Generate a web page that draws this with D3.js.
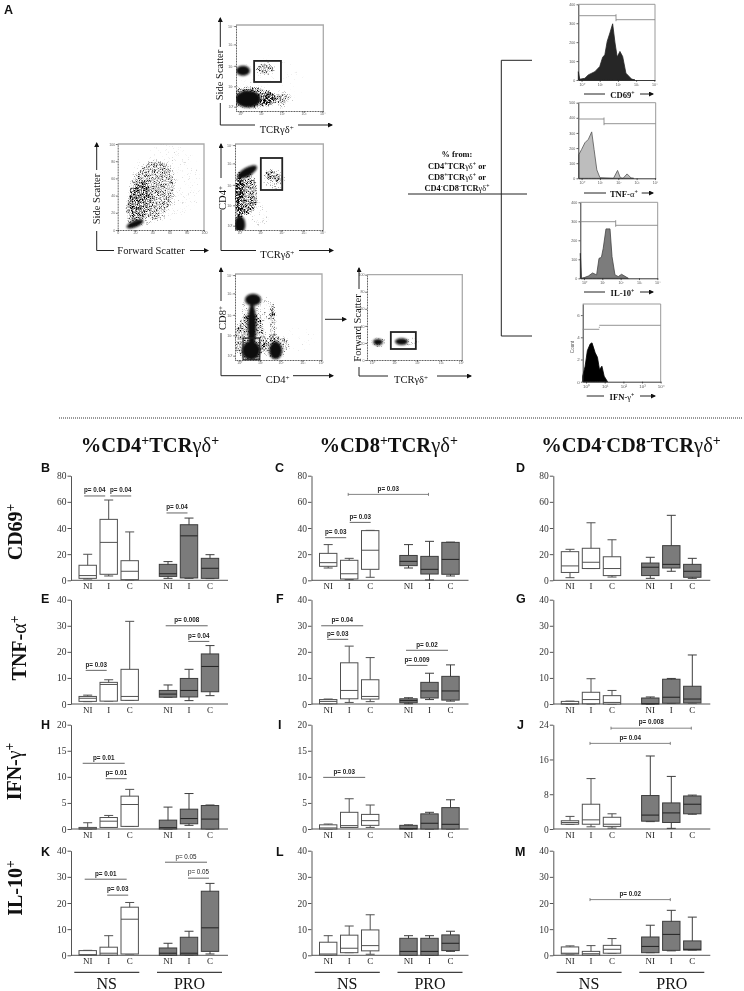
<!DOCTYPE html>
<html>
<head>
<meta charset="utf-8">
<script src="https://cdnjs.cloudflare.com/ajax/libs/d3/7.8.5/d3.min.js"></script>
<style>
html,body{margin:0;padding:0;background:#fff}
svg{display:block;filter:blur(0.42px)}
</style>
</head>
<body>
<svg id="fig" width="744" height="991" viewBox="0 0 744 991"></svg>
<script>
// ---------- box plot data: [min, q1, median, q3, max] for NS NI,I,C then PRO NI,I,C ----------
const categories = ["NI","I","C"];
const groups = ["NS","PRO"];
const panelB = [[1,1.5,3.6,11.5,19.9],[3.3,4.6,29,46.6,61.4],[0.3,0.5,6.9,15,37],[1.5,3,5,12.2,14.3],[1.5,1.8,34,42.5,47.6],[1.3,1.5,9.2,16.8,19.6]];
const panelC = [[9.4,10.7,13.5,20.6,27.3],[0.5,1,5,15.3,16.8],[2.3,8.4,23,38,38.2],[9.4,11.2,14.5,19,27.3],[0.3,4.8,8.4,18.3,29.8],[3.3,4.6,16,29,29.2]];
const panelD = [[2,6,11,21.9,23.7],[9,9,13.8,24.5,44],[2.5,3.6,9,18,31],[1.5,3.6,10,13.2,17.6],[6.9,9.4,12.2,26.5,49.7],[1.5,2.3,6.9,12.2,16.8]];
const panelE = [[0.9,1,2.2,2.9,3.4],[1.1,1.1,7.5,8.3,9.3],[1.4,1.4,2.9,13.3,31.7],[2.6,2.6,3.8,5.2,7.3],[1.3,2.7,5.2,9.8,13.3],[3.2,4.7,14.4,19.2,22.4]];
const panelF = [[0.1,0.1,1,1.7,1.9],[0.6,2,5.2,15.8,22.2],[0.9,1.9,2.9,9.3,17.8],[0.1,0.5,1.3,2,2.4],[1.7,2.3,5,8.3,11.8],[1.1,1.5,5,10.6,15]];
const panelG = [[0,0,0.1,1,1.1],[0,0.1,1.7,4.5,9.7],[0,0,0.6,3.2,5.2],[0,0,0.1,2.3,2.7],[0.3,0.3,2.6,9.5,9.8],[0.4,0.4,1.9,6.8,18.8]];
const panelH = [[0,0,0.05,0.3,1.2],[0.3,0.3,1.5,2.2,2.6],[0.5,0.5,4.7,6.3,7.6],[0,0,0.25,1.7,4.2],[0.7,1,2,3.8,6.8],[0,0,1.9,4.5,4.6]];
const panelI = [[0,0,0.2,0.8,0.95],[0.3,0.3,0.65,3.2,5.8],[0.3,0.7,1.6,2.8,4.6],[0,0,0.05,0.7,0.8],[0,0,1.1,2.9,3.2],[0,0,0.9,4.1,5.6]];
const panelJ = [[1.05,1.1,1.5,1.9,2.9],[0.5,1.1,2.1,5.7,11.6],[0.2,0.6,1.1,2.7,3.5],[1.7,1.8,3.2,7.7,16.8],[0.15,1.5,3.7,6,12.1],[3.4,3.5,5.7,7.6,7.8]];
const panelK = [[0,0,0.25,1.8,1.9],[0.1,0.1,0.8,3.1,7.5],[0.5,0.5,13.8,18.4,20.2],[0,0,0.8,2.8,4.6],[0.1,0.1,0.8,6.9,9.2],[0.5,1.5,10.5,24.5,27.5]];
const panelL = [[0,0.1,0.5,5,7.5],[1,1,2.7,7.7,11.2],[0.4,1.7,3.7,9.7,15.5],[0,0,1.5,6.5,7.5],[0,0,1.5,6.5,7.5],[1.5,1.8,4.6,7.8,9.2]];
const panelM = [[0.5,0.5,0.8,3.2,3.6],[0.1,0.1,0.6,1.5,3.7],[0.8,0.8,2.3,3.8,6.4],[1,1,3.4,7,11.5],[1.7,1.9,8,13,17.2],[2,2,2.3,5.5,14.6]];

// ---------- tick labels ----------
const ticks80 = [0,20,40,60,80];
const ticks40 = [0,10,20,30,40];
const ticks20 = [0,5,10,15,20];
const ticks24 = [0,8,16,24];

// ---------- significance bars: label, from group/category, to group/category, level on the y scale ----------
const pB = [["p= 0.04",0,0,0,1,64.5],["p= 0.04",0,1,0,2,64.5],["p= 0.04",1,0,1,1,51.5]];
const pC = [["p= 0.03",0,1,1,1,65.7],["p= 0.03",0,1,0,2,44.3],["p= 0.03",0,0,0,1,32.6]];
const pE = [["p= 0.03",0,0,0,1,12.9],["p= 0.008",1,0,1,2,30],["p= 0.04",1,1,1,2,24]];
const pF = [["p= 0.04",0,0,0,2,30],["p= 0.03",0,0,0,1,24.8],["p= 0.02",1,0,1,2,20.6],["p= 0.009",1,0,1,1,14.8]];
const pH = [["p= 0.01",0,0,0,2,12.6],["p= 0.01",0,1,0,2,9.65]];
const pI = [["p= 0.03",0,0,0,2,9.9]];
const pJ = [["p= 0.008",0,2,1,2,23.2],["p= 0.04",0,1,1,1,19.7]];
const pK = [["p= 0.01",0,0,0,2,29.1],["p= 0.03",0,1,0,2,23],["p= 0.05",1,0,1,2,35.6],["p= 0.05",1,1,1,2,29.5]];
const pM = [["p= 0.02",0,1,1,1,21.3]];

// ---------- histogram data: [log10 intensity, count] ----------
const histCD69 = [[-0.18,44],[-0.1,4],[0.18,9],[0.37,27],[0.73,44],[1,71],[1.16,120],[1.28,133],[1.41,204],[1.56,249],[1.71,297],[1.84,196],[1.96,121],[2.11,151],[2.26,124],[2.44,36],[2.75,5],[2.94,0]];
const histTNF = [[-0.15,157],[0,191],[0.18,235],[0.37,258],[0.55,307],[0.68,191],[0.83,56],[1,4],[1.74,0],[1.96,52],[2.11,4],[2.26,0],[2.48,29],[2.7,2],[2.84,0]];
const histIL10 = [[-0.2,132],[-0.13,0],[0.05,5],[0.24,12],[0.47,28],[0.69,18],[0.82,105],[0.95,110],[1.05,158],[1.2,260],[1.42,260],[1.53,114],[1.69,18],[1.87,9],[2.05,21],[2.42,0]];
const histIFN = [[-0.18,0.5],[-0.05,1.4],[0.07,2.8],[0.22,3.4],[0.32,3.5],[0.49,2.6],[0.61,2.2],[0.72,1.1],[0.85,1.4],[0.97,0.5],[1.15,0]];

// ---------- cytometry density regions: [x, y, radius x, radius y, tilt, density] ----------
const cloudsSscTcr = [[0.32,1.87,0.32,0.23,0,1],[1.33,1.95,0.42,0.26,0,0.52],[0.55,0.56,0.58,0.4,0,1],[1.47,0.57,0.35,0.28,0,0.68],[2.1,0.55,0.4,0.32,0,0.42],[1.6,1.3,1.7,1.4,0,0.3],[0.6,0.6,1.2,0.5,0,0.62]];
const cloudsSscFsc = [[200,70,105,38,-22,1],[230,290,130,280,16,0.54],[380,420,260,400,20,0.42],[560,560,440,470,0,0.33]];
const cloudsCd4Tcr = [[0.55,2.7,0.5,0.2,-30,1],[0.2,1.45,0.2,1.3,0,0.9],[0.22,0.25,0.25,0.4,0,1],[0.5,1.75,0.55,1.05,0,0.66],[1.6,2.55,0.22,0.22,0,0.52],[2,2.4,0.22,0.22,0,0.5],[1.75,2.35,0.55,0.6,0,0.42],[1.05,0.7,0.6,0.7,0,0.36]];
const cloudsCd8Cd4 = [[0.83,2.8,0.37,0.28,0,1],[0.78,1.6,0.2,1,0,1],[0.74,0.45,0.42,0.45,0,1],[1.87,0.45,0.3,0.42,0,1],[1.75,1.6,0.2,1,0,0.55],[1.05,2.4,0.85,0.7,0,0.42],[0.7,1,0.75,1.2,0,0.62],[3,1,0.8,0.7,0,0.31],[1.85,0.6,0.6,0.6,0,0.55]];
const cloudsFscTcr = [[0.46,210,0.2,36,0,1],[1.45,216,0.27,40,0,1],[0.46,210,0.38,75,0,0.5],[1.8,216,0.5,70,0,0.42]];

// ---------- text ----------
const columnTitles = ["%CD4^+TCRγδ^+","%CD8^+TCRγδ^+","%CD4^-CD8^-TCRγδ^+"];
const rowTitles = ["CD69^+","TNF-α^+","IFN-γ^+","IL-10^+"];
const gateNote = ["% from:","CD4^+TCRγδ^+ or","CD8^+TCRγδ^+ or","CD4^-CD8^-TCRγδ^+"];
const decadeLabels = ["10⁰","10¹","10²","10³","10⁴"];

// ---------- layout (pixels) ----------
const colX = [71,311.5,553.3];
const rowY = [[475.7,580.3],[599.7,704],[724.7,829],[850.7,955.3]];
const axisLen = 157;
const panels = [
 {id:"B",col:0,row:0,vals:panelB,ymax:80,ticks:ticks80,p:pB,shift:[-3.5,1.5,-1.5]},
 {id:"C",col:1,row:0,vals:panelC,ymax:80,ticks:ticks80,p:pC,shift:[-1,0.5,-3],caps:[0]},
 {id:"D",col:2,row:0,vals:panelD,ymax:80,ticks:ticks80,p:[],shift:[]},
 {id:"E",col:0,row:1,vals:panelE,ymax:40,ticks:ticks40,p:pE,shift:[-2,-2.3,-0.7]},
 {id:"F",col:1,row:1,vals:panelF,ymax:40,ticks:ticks40,p:pF,shift:[-7,-1,-2.5,-2]},
 {id:"G",col:2,row:1,vals:panelG,ymax:40,ticks:ticks40,p:[],shift:[]},
 {id:"H",col:0,row:2,vals:panelH,ymax:20,ticks:ticks20,p:pH,shift:[-5,-3]},
 {id:"I",col:1,row:2,vals:panelI,ymax:20,ticks:ticks20,p:pI,shift:[-5]},
 {id:"J",col:2,row:2,vals:panelJ,ymax:24,ticks:ticks24,p:pJ,shift:[-1,-1],caps:[0,1]},
 {id:"K",col:0,row:3,vals:panelK,ymax:40,ticks:ticks40,p:pK,shift:[-3,-1.5,-3,-1],light:[2,3]},
 {id:"L",col:1,row:3,vals:panelL,ymax:40,ticks:ticks40,p:[],shift:[]},
 {id:"M",col:2,row:3,vals:panelM,ymax:40,ticks:ticks40,p:pM,shift:[-1],caps:[0]}
];
const panelLetters = [["A",4,14],["B",41,472],["C",275,472],["D",516,472],["E",41,603],["F",276,603],["G",516,603],["H",41,729],["I",278,729],["J",517,729],["K",41,856],["L",276,856],["M",515,856]];

const svg = d3.select("#fig");
const SERIF = "'Liberation Serif','Times New Roman',serif";
const SANS = "'Liberation Sans',Arial,sans-serif";

// ---------- defs ----------
const defs = svg.append("defs");
defs.append("marker").attr("id","arrow").attr("viewBox","0 0 10 10").attr("refX",8).attr("refY",5)
  .attr("markerWidth",5).attr("markerHeight",5).attr("markerUnits","userSpaceOnUse").attr("orient","auto")
  .append("path").attr("d","M0,0L10,5L0,10Z").attr("fill","#111");
const stip = defs.append("filter").attr("id","stipple").attr("x","-60%").attr("y","-60%").attr("width","220%").attr("height","220%")
  .attr("color-interpolation-filters","sRGB");
stip.append("feGaussianBlur").attr("in","SourceAlpha").attr("stdDeviation",1.6).attr("result","b");
stip.append("feTurbulence").attr("type","fractalNoise").attr("baseFrequency",1.5).attr("numOctaves",2).attr("seed",4).attr("result","n");
stip.append("feColorMatrix").attr("in","n").attr("type","matrix").attr("values","0 0 0 0 0  0 0 0 0 0  0 0 0 0 0  1.6 0 0 0 -0.3").attr("result","a");
stip.append("feComposite").attr("in","a").attr("in2","b").attr("operator","in").attr("result","m");
const ct = stip.append("feComponentTransfer").attr("in","m");
ct.append("feFuncA").attr("type","linear").attr("slope",3).attr("intercept",-0.75);
const soft = defs.append("filter").attr("id","soft").attr("x","-40%").attr("y","-40%").attr("width","180%").attr("height","180%");
soft.append("feGaussianBlur").attr("stdDeviation",0.9);

// ---------- rich text: ^ raises the next character, greek letters are never bold ----------
function rich(text, str, size, bold){
  const segs = [];
  for(let i=0;i<str.length;i++){
    let ch = str[i], sup=false;
    if(ch==="^"){ sup=true; ch=str[++i]; }
    const greek = /[γδα]/.test(ch);
    const last = segs[segs.length-1];
    if(last && last.sup===sup && last.greek===greek) last.t+=ch;
    else segs.push({t:ch,sup,greek});
  }
  let prev=false;
  segs.forEach(s=>{
    const ts = text.append("tspan").text(s.t)
      .attr("font-weight", (bold && !s.greek) ? "bold":"normal")
      .attr("font-size", s.sup ? size*0.68 : size);
    const dy = s.sup ? (prev?0:-size*0.33) : (prev?size*0.33:0);
    if(dy) ts.attr("dy",dy);
    prev=s.sup;
  });
}
function label(x,y,str,size,opts={}){
  const t = svg.append("text").attr("x",x).attr("y",y).attr("text-anchor",opts.anchor||"middle")
    .attr("font-family",opts.family||SERIF).attr("fill",opts.fill||"#111");
  if(opts.rotate!==undefined) t.attr("transform",`rotate(${opts.rotate} ${x} ${y})`);
  rich(t,str,size,!!opts.bold);
  return t;
}

// ---------- flow cytometry panels ----------
const flow = [
 {box:[236,323.3,25,111],xd:[0,4],yd:[0,4],clouds:cloudsSscTcr,gate:[0.83,2.06,1.35,2.33],gw:1.8,
  v:{x:220.3,y1:125,y2:18,gap:[47,103],label:"Side Scatter",lx:223,ly:75},h:{y:125,x1:220.3,x2:332,gap:[255,298],label:"TCRγδ^+",lx:276.7,ly:133}},
 {box:[117.7,204,144,230],xd:[0,1000],yd:[0,1000],clouds:cloudsSscFsc,linear:true,
  v:{x:96.7,y1:250.5,y2:143,gap:[170,231],label:"Side Scatter",lx:100,ly:199},h:{y:250.5,x1:96.7,x2:208,gap:[114,190],label:"Forward Scatter",lx:151,ly:254}},
 {box:[235,323.3,144,230],xd:[0,4],yd:[0,4],clouds:cloudsCd4Tcr,gate:[1.17,2.14,0,0],gateY:[190,158],gw:1.8,
  v:{x:221,y1:250.5,y2:144,gap:[178,210],label:"CD4^+",lx:226,ly:198},h:{y:250.5,x1:221,x2:333,gap:[256,299],label:"TCRγδ^+",lx:277.3,ly:258}},
 {box:[235,322,274,360],xd:[0,4],yd:[0,4],clouds:cloudsCd8Cd4,gate:[0.37,1.14,0.01,1.02],gw:1.2,
  v:{x:221,y1:375.7,y2:268,gap:[301,333],label:"CD8^+",lx:226,ly:318},h:{y:375.7,x1:221,x2:333,gap:[261,293],label:"CD4^+",lx:277.7,ly:383}},
 {box:[367,462.3,274.7,360],xd:[0,4],yd:[0,1000],clouds:cloudsFscTcr,gate:[1,2.05,129,328],gw:1.8,ylinear:true,
  v:{x:359,y1:376,y2:268,gap:[289,367],label:"Forward Scatter",lx:361,ly:328},h:{y:376,x1:359,x2:471,gap:[388,437],label:"TCRγδ^+",lx:411,ly:383}}
];
const logTicks=[0.2,1.15,2.1,3.1,3.95], linTicks=[0,200,400,600,800,1000], linLabels=["0","20","40","60","80","100"];

flow.forEach(f=>{
  const [x0,x1,y0,y1]=f.box;
  const xs=d3.scaleLinear().domain(f.xd).range([x0,x1]);
  const ys=d3.scaleLinear().domain(f.yd).range([y1,y0]);
  const g=svg.append("g");
  const rxs=v=>Math.abs(xs(v)-xs(0)), rys=v=>Math.abs(ys(v)-ys(0));
  const clip="clip"+Math.round(x0)+Math.round(y0);
  defs.append("clipPath").attr("id",clip).append("rect").attr("x",x0).attr("y",y0).attr("width",x1-x0).attr("height",y1-y0);
  const cg=g.append("g").attr("clip-path",`url(#${clip})`);
  cg.append("g").attr("filter","url(#stipple)").selectAll("ellipse").data(f.clouds.filter(c=>c[5]<1)).join("ellipse")
    .attr("cx",c=>xs(c[0])).attr("cy",c=>ys(c[1])).attr("rx",c=>rxs(c[2])).attr("ry",c=>rys(c[3]))
    .attr("transform",c=>`rotate(${c[4]} ${xs(c[0])} ${ys(c[1])})`).attr("fill","#000").attr("fill-opacity",c=>c[5]);
  cg.append("g").attr("filter","url(#soft)").selectAll("ellipse").data(f.clouds.filter(c=>c[5]>=1)).join("ellipse")
    .attr("cx",c=>xs(c[0])).attr("cy",c=>ys(c[1])).attr("rx",c=>rxs(c[2])).attr("ry",c=>rys(c[3]))
    .attr("transform",c=>`rotate(${c[4]} ${xs(c[0])} ${ys(c[1])})`).attr("fill","#0c0c0c");
  // frame: grey top/right, axes left/bottom
  g.append("path").attr("d",`M${x0},${y0}H${x1}V${y1}`).attr("fill","none").attr("stroke","#aaa").attr("stroke-width",1.3);
  const xAxis=d3.axisBottom(xs).tickSize(1.8).tickSizeOuter(0);
  if(f.linear) xAxis.tickValues(linTicks).tickFormat((d,i)=>linLabels[i]);
  else xAxis.tickValues(logTicks).tickFormat((d,i)=>decadeLabels[i]);
  const yAxis=d3.axisLeft(ys).tickSize(1.8).tickSizeOuter(0);
  if(f.linear||f.ylinear) yAxis.tickValues(linTicks).tickFormat((d,i)=>linLabels[i]);
  else yAxis.tickValues(logTicks.slice(0,5)).tickFormat((d,i)=>decadeLabels[i]);
  const ax=g.append("g").attr("transform",`translate(0,${y1})`).call(xAxis);
  const ay=g.append("g").attr("transform",`translate(${x0},0)`).call(yAxis);
  [ax,ay].forEach(a=>{a.attr("font-size",3.6).attr("font-family",SANS).attr("fill","#666");
    a.selectAll("line").attr("stroke","#333").attr("stroke-width",0.7);
    a.select(".domain").attr("stroke","#222").attr("stroke-width",0.8).attr("stroke-dasharray","1 0.6");
    a.selectAll("text").attr("fill","#666");});
  ax.selectAll("text").attr("dy","0.3em").attr("y",3);
  ay.selectAll("text").attr("x",-2.5);
  // gate
  if(f.gate){
    const gy=f.gateY||[ys(f.gate[2]),ys(f.gate[3])];
    g.append("rect").attr("x",xs(f.gate[0])).attr("width",xs(f.gate[1])-xs(f.gate[0]))
      .attr("y",Math.min(gy[0],gy[1])).attr("height",Math.abs(gy[0]-gy[1]))
      .attr("fill","none").attr("stroke","#222").attr("stroke-width",f.gw);
  }
  // labelled axes with arrow heads
  const v=f.v,h=f.h;
  const aLines=svg.append("g").attr("stroke","#222").attr("stroke-width",1).attr("fill","none");
  aLines.append("path").attr("d",`M${h.x1},${h.y}V${v.gap[1]}`);
  aLines.append("line").attr("x1",v.x).attr("x2",v.x).attr("y1",v.gap[0]).attr("y2",v.y2).attr("marker-end","url(#arrow)");
  aLines.append("path").attr("d",`M${h.x1},${h.y}H${h.gap[0]}`);
  aLines.append("line").attr("x1",h.gap[1]).attr("x2",h.x2).attr("y1",h.y).attr("y2",h.y).attr("marker-end","url(#arrow)");
  label(v.lx,v.ly,v.label,10.5,{rotate:-90});
  label(h.lx,h.ly,h.label,10.5);
});
// arrow between the CD8/CD4 and forward-scatter plots
svg.append("line").attr("x1",325).attr("x2",346).attr("y1",319.3).attr("y2",319.3).attr("stroke","#222").attr("marker-end","url(#arrow)");

// ---------- histograms ----------
const hists = [
 {box:[578.3,655,4.3,80],xd:[-0.18,4.04],ymax:400,ytick:[0,100,200,300,400],data:histCD69,fill:"#262626",stroke:"#262626",mark:[15.7,19.7,616],lab:"CD69^+",ly:98,l1:[584,605],l2:[640,653]},
 {box:[578.3,655.7,102.7,178.3],xd:[-0.18,4.04],ymax:500,ytick:[0,100,200,300,400,500],data:histTNF,fill:"#bdbdbd",stroke:"#555",mark:[119,123.7,604],lab:"TNF-α^+",ly:197,l1:[584,606],l2:[641.7,653]},
 {box:[580.3,657.7,202.3,278.3],xd:[-0.2,4.02],ymax:400,ytick:[0,100,200,300,400],data:histIL10,fill:"#7c7c7c",stroke:"#444",mark:[221.7,225.3,615.7],lab:"IL-10^+",ly:296,l1:[584,605],l2:[640,653]},
 {box:[582.7,660.7,304,381.7],xd:[-0.18,4],ymax:7,ytick:[0,2,4,6],data:histIFN,fill:"#000",stroke:"#000",mark:[329.3,325.3,599.3],lab:"IFN-γ^+",ly:400,l1:[586.7,604],l2:[640,655],tall:true}
];
hists.forEach(h=>{
  const [x0,x1,y0,y1]=h.box;
  const xs=d3.scaleLinear().domain(h.xd).range([x0,x1]);
  const ys=d3.scaleLinear().domain([0,h.ymax]).range([y1,y0]);
  const g=svg.append("g");
  g.append("path").attr("d",`M${x0},${y0}H${x1}V${y1}`).attr("fill","none").attr("stroke","#999").attr("stroke-width",1);
  const area=d3.area().x(d=>xs(d[0])).y0(ys(0)).y1(d=>ys(d[1])).curve(d3.curveLinear);
  g.append("path").datum(h.data).attr("d",area).attr("fill",h.fill).attr("stroke",h.stroke).attr("stroke-width",0.8);
  const ax=g.append("g").attr("transform",`translate(0,${y1})`).call(d3.axisBottom(xs).tickValues([0,1,2,3,4]).tickSize(1.8).tickSizeOuter(0).tickFormat((d,i)=>decadeLabels[i]));
  const ay=g.append("g").attr("transform",`translate(${x0},0)`).call(d3.axisLeft(ys).tickValues(h.ytick).tickSize(1.8).tickSizeOuter(0).tickFormat(d3.format("d")));
  [ax,ay].forEach(a=>{a.attr("font-size",h.tall?4.4:3.6).attr("font-family",SANS);
    a.selectAll("line").attr("stroke","#222").attr("stroke-width",0.7);
    a.select(".domain").attr("stroke","#222").attr("stroke-width",0.9);
    a.selectAll("text").attr("fill","#555");});
  ax.selectAll("text").attr("y",3);
  ay.selectAll("text").attr("x",-3);
  // marker gates
  const m=h.mark;
  g.append("path").attr("d",`M${x0},${m[0]}H${m[2]}M${m[2]},${m[0]-1.5}V${m[1]+1.5}M${m[2]},${m[1]}H${x1}`).attr("fill","none").attr("stroke","#888").attr("stroke-width",0.9);
  // label with arrow
  label((h.l1[1]+h.l2[0])/2,h.ly,h.lab,8.6,{bold:true});
  svg.append("line").attr("x1",h.l1[0]).attr("x2",h.l1[1]).attr("y1",h.ly-4).attr("y2",h.ly-4).attr("stroke","#222");
  svg.append("line").attr("x1",h.l2[0]).attr("x2",h.l2[1]).attr("y1",h.ly-4).attr("y2",h.ly-4).attr("stroke","#222").attr("marker-end","url(#arrow)");
});
label(573.5,347,"Count",4.6,{rotate:-90,family:SANS,fill:"#555"});

// ---------- bracket and note ----------
svg.append("path").attr("d","M532,60.3H501.3V336H532M408,194H527").attr("fill","none").attr("stroke","#222").attr("stroke-width",1);
gateNote.forEach((s,i)=>label(457,[157,169,180,190.5][i],s,8.4,{bold:true}));

// ---------- divider ----------
svg.append("line").attr("x1",59).attr("x2",743).attr("y1",418).attr("y2",418).attr("stroke","#333").attr("stroke-dasharray","1 1").attr("stroke-width",1);

// ---------- titles ----------
[150,388.7,631].forEach((x,i)=>label(x,451.7,columnTitles[i],20.5,{bold:true}));
[[21.5,532],[26,648],[21,771.5],[21.5,888]].forEach((p,i)=>label(p[0],p[1],rowTitles[i],20,{bold:true,rotate:-90}));
svg.append("g").selectAll("text").data(panelLetters).join("text")
  .attr("x",d=>d[1]).attr("y",d=>d[2]).text(d=>d[0]).attr("font-family",SANS).attr("font-weight","bold").attr("font-size",12.5).attr("fill","#111");

// ---------- box plots ----------
const groupPos = d3.scalePoint().domain(groups).range([37.7,118]);
const catPos = d3.scalePoint().domain(categories).range([-21,21]);
const pos = (g,c)=>groupPos(groups[g])+catPos(categories[c]);
const boxW = 17.4, capW = 9;

panels.forEach(p=>{
  const [top,bot]=rowY[p.row];
  const g=svg.append("g").attr("transform",`translate(${colX[p.col]},0)`);
  const y=d3.scaleLinear().domain([0,p.ymax]).range([bot,top]);
  const ay=g.append("g").call(d3.axisLeft(y).tickValues(p.ticks).tickSize(3.5).tickSizeOuter(0));
  ay.attr("font-family",SERIF).attr("font-size",9.5);
  ay.select(".domain").attr("stroke","#555").attr("stroke-width",1);
  ay.selectAll("line").attr("stroke","#555");
  ay.selectAll("text").attr("fill","#333").attr("x",-4.5);
  g.append("line").attr("x1",0).attr("x2",axisLen).attr("y1",bot).attr("y2",bot).attr("stroke","#555").attr("stroke-width",1);

  const rows=p.vals.map((v,i)=>({v,g:i<3?0:1,c:i%3}));
  const b=g.selectAll("g.box").data(rows).join("g").attr("class","box")
    .attr("transform",d=>`translate(${pos(d.g,d.c)},0)`);
  const sc=d=>d.g?"#3d3d3d":"#505050";
  b.append("line").attr("y1",d=>y(d.v[0])).attr("y2",d=>y(d.v[4])).attr("stroke",sc).attr("stroke-width",1);
  b.append("line").attr("x1",-capW/2).attr("x2",capW/2).attr("y1",d=>y(d.v[4])).attr("y2",d=>y(d.v[4])).attr("stroke",sc);
  b.append("line").attr("x1",-capW/2).attr("x2",capW/2).attr("y1",d=>y(d.v[0])).attr("y2",d=>y(d.v[0])).attr("stroke",sc);
  b.append("rect").attr("x",-boxW/2).attr("width",boxW).attr("y",d=>y(d.v[3])).attr("height",d=>y(d.v[1])-y(d.v[3]))
    .attr("fill",d=>d.g?"#7b7b7b":"#fff").attr("stroke",sc).attr("stroke-width",1);
  b.append("line").attr("x1",-boxW/2).attr("x2",boxW/2).attr("y1",d=>y(d.v[2])).attr("y2",d=>y(d.v[2])).attr("stroke",d=>d.g?"#222":"#505050").attr("stroke-width",1);
  b.append("text").text(d=>categories[d.c]).attr("y",bot+9).attr("text-anchor","middle").attr("font-family",SERIF).attr("font-size",9).attr("fill","#222");

  // significance
  p.p.forEach((a,i)=>{
    const x1=pos(a[1],a[2])+p.shift[i], x2=pos(a[3],a[4])+p.shift[i], yy=y(a[5]);
    const isCap=(p.caps||[]).includes(i), isLight=(p.light||[]).includes(i);
    g.append("line").attr("x1",x1).attr("x2",x2).attr("y1",yy).attr("y2",yy).attr("stroke","#666").attr("stroke-width",isCap?0.8:1);
    if(isCap) [x1,x2].forEach(x=>g.append("line").attr("x1",x).attr("x2",x).attr("y1",yy-1.5).attr("y2",yy+1.5).attr("stroke","#666").attr("stroke-width",0.8));
    g.append("text").text(a[0]).attr("x",(x1+x2)/2).attr("y",yy-3.7).attr("text-anchor","middle")
      .attr("font-family",SANS).attr("font-weight",isLight?"normal":"bold").attr("font-size",6.3).attr("fill","#222");
  });

  // NS / PRO brackets on the bottom row
  if(p.row===3){
    groups.forEach((name,i)=>{
      const lo=i?86:3.3, hi=i?151:68.3;
      g.append("line").attr("x1",lo).attr("x2",hi).attr("y1",972.3).attr("y2",972.3).attr("stroke","#111").attr("stroke-width",1);
      g.append("text").text(name).attr("x",(lo+hi)/2).attr("y",989).attr("text-anchor","middle").attr("font-family",SERIF).attr("font-size",16).attr("fill","#111");
    });
  }
});
</script>
</body>
</html>
